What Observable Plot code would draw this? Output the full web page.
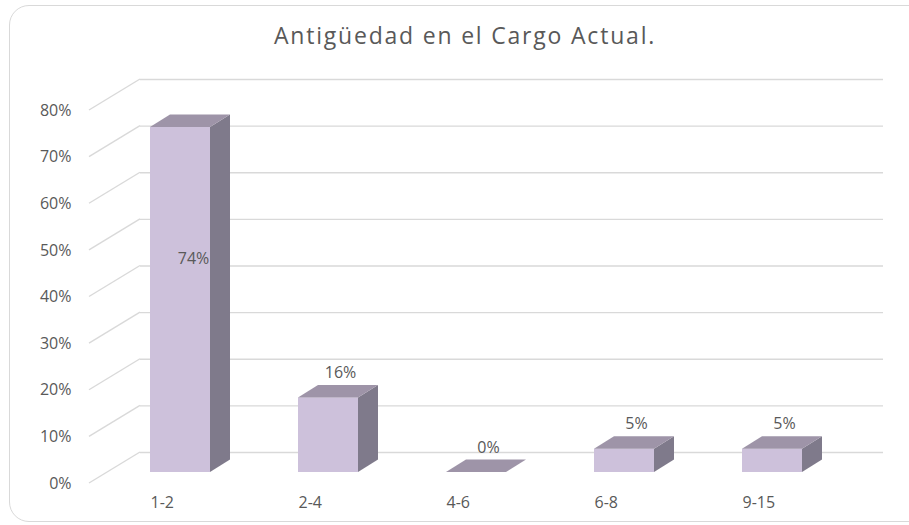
<!DOCTYPE html>
<html>
<head>
<meta charset="utf-8">
<script src="https://cdn.jsdelivr.net/npm/d3@7"></script>
<script src="https://cdn.jsdelivr.net/npm/@observablehq/plot@0.6"></script>
<style>
  html, body { margin: 0; padding: 0; background: #ffffff; }
  #wrap { position: relative; width: 909px; height: 525px; overflow: hidden; font-family: "Open Sans", sans-serif; }
  #frame { position: absolute; left: 9px; top: 5px; width: 920px; height: 517px; border: 1.5px solid #d9d9d9; border-radius: 20px; box-sizing: border-box; }
  #title { position: absolute; left: 0; top: 24px; width: 930px; text-align: center; font-size: 23px; line-height: 23px; color: #595959; letter-spacing: 1.8px; }
  #chart { position: absolute; left: 0; top: 60px; }
</style>
</head>
<body>
<div id="wrap">
  <div id="frame"></div>
  <div id="title">Antigüedad en el Cargo Actual.</div>
  <div id="chart"></div>
</div>
<script>
// ---- data ----
const categories = ["1-2", "2-4", "4-6", "6-8", "9-15"];
const values = [0.74, 0.16, 0.00, 0.05, 0.05];
const yTicks = [0, 0.1, 0.2, 0.3, 0.4, 0.5, 0.6, 0.7, 0.8];

const data = categories.map((c, i) => ({cat: c, val: values[i]}));

// ---- style ----
const FRONT = "#cdc1db", SIDE = "#7f7a8b", TOP = "#9e94a8";
const GRID = "#d9d9d9", TEXT = "#595959";
const DX = 20, DY = -12.5;      // 3D depth offset of bars
const FS = 16;
const pct = d3.format(".0%");

// 3D faces drawn with the library's scales
function bars3d(index, scales, values, dimensions, context, next) {
  const g = next(index, scales, values, dimensions, context);
  const sel = d3.select(g);
  const w = scales.x.bandwidth();
  for (const i of index) {
    const d = data[i];
    const x0 = scales.x(d.cat), x1 = x0 + w;
    const yt = scales.y(d.val), yb = scales.y(0);
    sel.append("polygon")
      .attr("points", [[x1, yt], [x1 + DX, yt + DY], [x1 + DX, yb + DY], [x1, yb]].join(" "))
      .attr("fill", SIDE);
    sel.append("polygon")
      .attr("points", [[x0, yt], [x0 + DX, yt + DY], [x1 + DX, yt + DY], [x1, yt]].join(" "))
      .attr("fill", TOP);
  }
  return g;
}

// diagonal floor/wall gridlines on the left (front edge to back wall)
function diagonals(index, scales, values, dimensions) {
  const g = d3.create("svg:g");
  for (const i of index) {
    const y = scales.y(yTicks[i]);
    g.append("line")
      .attr("x1", dimensions.marginLeft - 51).attr("y1", y + 11)
      .attr("x2", dimensions.marginLeft).attr("y2", y - 20)
      .attr("stroke", GRID).attr("stroke-width", 1.4);
  }
  return g.node();
}

const chart = Plot.plot({
  width: 909,
  height: 465,
  marginLeft: 140,
  marginRight: 26,
  marginTop: 39,
  marginBottom: 53,
  style: {fontFamily: "Open Sans, sans-serif", fontSize: FS + "px", color: TEXT, background: "transparent"},
  x: {type: "band", domain: categories, range: [60.5, 891.5], padding: 0.596, label: null},
  y: {domain: [0, 0.8], range: [412, 39], label: null},
  marks: [
    Plot.ruleY(yTicks, {y: d => d, dy: -20, stroke: GRID, strokeWidth: 1.4}),
    Plot.ruleY(yTicks, {y: d => d, render: diagonals}),
    Plot.axisY({ticks: yTicks, tickFormat: pct, tickSize: 0, tickPadding: 69, dy: 11, fill: TEXT, fontSize: FS, label: null, style: {letterSpacing: "0.8px"}}),
    Plot.axisX({tickSize: 0, tickPadding: 24, textAnchor: "start", dx: -30, fill: TEXT, fontSize: FS, label: null, style: {letterSpacing: "0.8px"}}),
    Plot.barY(data, {x: "cat", y: "val", fill: FRONT, render: bars3d}),
    Plot.text(data.filter(d => d.val >= 0.5), {x: "cat", y: "val", text: d => pct(d.val), dx: 13, dy: 131, fill: TEXT, fontSize: FS, style: {letterSpacing: "0.8px"}}),
    Plot.text(data.filter(d => d.val < 0.5), {x: "cat", y: "val", text: d => pct(d.val), dx: 12, dy: -25, fill: TEXT, fontSize: FS, style: {letterSpacing: "0.8px"}})
  ]
});
document.getElementById("chart").appendChild(chart);
</script>
</body>
</html>
